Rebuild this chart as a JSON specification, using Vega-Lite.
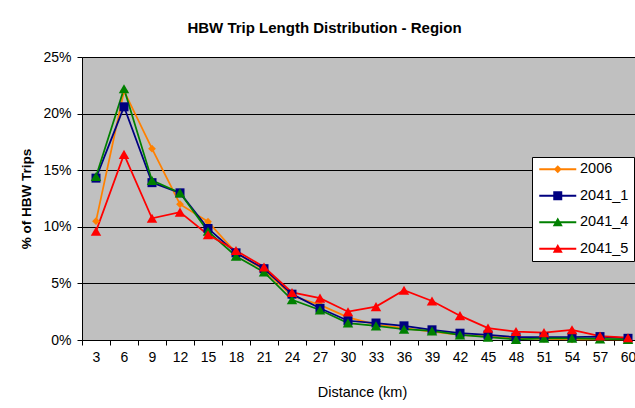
{
  "$schema": "https://vega.github.io/schema/vega-lite/v6.json",
  "width": 553,
  "height": 283,
  "autosize": {"type": "none"},
  "padding": {"left": 82, "top": 57, "right": 0, "bottom": 68},
  "background": "white",
  "title": {"text": "HBW Trip Length Distribution - Region", "font": "Liberation Sans", "fontSize": 15, "fontWeight": "bold", "anchor": "middle", "frame": "group", "dx": -34, "offset": 14, "color": "black"},
  "data": {"values": [
    {"d": 3, "s": "2006", "v": 0.105}, {"d": 6, "s": "2006", "v": 0.220}, {"d": 9, "s": "2006", "v": 0.169}, {"d": 12, "s": "2006", "v": 0.120}, {"d": 15, "s": "2006", "v": 0.1045}, {"d": 18, "s": "2006", "v": 0.077}, {"d": 21, "s": "2006", "v": 0.062}, {"d": 24, "s": "2006", "v": 0.039}, {"d": 27, "s": "2006", "v": 0.031}, {"d": 30, "s": "2006", "v": 0.020}, {"d": 33, "s": "2006", "v": 0.0135}, {"d": 36, "s": "2006", "v": 0.0105}, {"d": 39, "s": "2006", "v": 0.0075}, {"d": 42, "s": "2006", "v": 0.0045}, {"d": 45, "s": "2006", "v": 0.003}, {"d": 48, "s": "2006", "v": 0.0015}, {"d": 51, "s": "2006", "v": 0.001}, {"d": 54, "s": "2006", "v": 0.0005}, {"d": 57, "s": "2006", "v": 0.0005}, {"d": 60, "s": "2006", "v": 0.0005},
    {"d": 3, "s": "2041_1", "v": 0.143}, {"d": 6, "s": "2041_1", "v": 0.206}, {"d": 9, "s": "2041_1", "v": 0.139}, {"d": 12, "s": "2041_1", "v": 0.130}, {"d": 15, "s": "2041_1", "v": 0.0985}, {"d": 18, "s": "2041_1", "v": 0.077}, {"d": 21, "s": "2041_1", "v": 0.063}, {"d": 24, "s": "2041_1", "v": 0.0405}, {"d": 27, "s": "2041_1", "v": 0.028}, {"d": 30, "s": "2041_1", "v": 0.017}, {"d": 33, "s": "2041_1", "v": 0.015}, {"d": 36, "s": "2041_1", "v": 0.0125}, {"d": 39, "s": "2041_1", "v": 0.009}, {"d": 42, "s": "2041_1", "v": 0.006}, {"d": 45, "s": "2041_1", "v": 0.0045}, {"d": 48, "s": "2041_1", "v": 0.0025}, {"d": 51, "s": "2041_1", "v": 0.0025}, {"d": 54, "s": "2041_1", "v": 0.0025}, {"d": 57, "s": "2041_1", "v": 0.003}, {"d": 60, "s": "2041_1", "v": 0.0015},
    {"d": 3, "s": "2041_4", "v": 0.1445}, {"d": 6, "s": "2041_4", "v": 0.222}, {"d": 9, "s": "2041_4", "v": 0.141}, {"d": 12, "s": "2041_4", "v": 0.130}, {"d": 15, "s": "2041_4", "v": 0.096}, {"d": 18, "s": "2041_4", "v": 0.074}, {"d": 21, "s": "2041_4", "v": 0.060}, {"d": 24, "s": "2041_4", "v": 0.0355}, {"d": 27, "s": "2041_4", "v": 0.0265}, {"d": 30, "s": "2041_4", "v": 0.015}, {"d": 33, "s": "2041_4", "v": 0.0125}, {"d": 36, "s": "2041_4", "v": 0.0095}, {"d": 39, "s": "2041_4", "v": 0.008}, {"d": 42, "s": "2041_4", "v": 0.0045}, {"d": 45, "s": "2041_4", "v": 0.0025}, {"d": 48, "s": "2041_4", "v": 0.0005}, {"d": 51, "s": "2041_4", "v": 0.0015}, {"d": 54, "s": "2041_4", "v": 0.0015}, {"d": 57, "s": "2041_4", "v": 0.001}, {"d": 60, "s": "2041_4", "v": 0.0005},
    {"d": 3, "s": "2041_5", "v": 0.096}, {"d": 6, "s": "2041_5", "v": 0.164}, {"d": 9, "s": "2041_5", "v": 0.1075}, {"d": 12, "s": "2041_5", "v": 0.113}, {"d": 15, "s": "2041_5", "v": 0.093}, {"d": 18, "s": "2041_5", "v": 0.079}, {"d": 21, "s": "2041_5", "v": 0.0645}, {"d": 24, "s": "2041_5", "v": 0.042}, {"d": 27, "s": "2041_5", "v": 0.037}, {"d": 30, "s": "2041_5", "v": 0.025}, {"d": 33, "s": "2041_5", "v": 0.0295}, {"d": 36, "s": "2041_5", "v": 0.044}, {"d": 39, "s": "2041_5", "v": 0.0345}, {"d": 42, "s": "2041_5", "v": 0.0215}, {"d": 45, "s": "2041_5", "v": 0.0105}, {"d": 48, "s": "2041_5", "v": 0.0075}, {"d": 51, "s": "2041_5", "v": 0.0065}, {"d": 54, "s": "2041_5", "v": 0.009}, {"d": 57, "s": "2041_5", "v": 0.0035}, {"d": 60, "s": "2041_5", "v": 0.002}
  ]},
  "encoding": {
    "x": {
      "field": "d", "type": "ordinal", "sort": null,
      "scale": {"type": "band", "range": [0, 560], "paddingInner": 0, "paddingOuter": 0},
      "axis": {"title": "Distance (km)", "titleFont": "Liberation Sans", "titleFontSize": 14.5, "titleFontWeight": "normal", "titleColor": "black", "titlePadding": 21, "labelAngle": 0, "labelFont": "Liberation Sans", "labelFontSize": 14, "labelColor": "black", "labelPadding": 5, "tickBand": "extent", "tickSize": 5, "tickColor": "black", "domainColor": "black", "grid": false, "labelOverlap": false}
    },
    "y": {
      "field": "v", "type": "quantitative",
      "scale": {"domain": [0, 0.25], "nice": false},
      "axis": {"title": "% of HBW Trips", "titleFont": "Liberation Sans", "titleFontSize": 13.5, "titleFontWeight": "bold", "titleColor": "black", "titlePadding": 9, "values": [0, 0.05, 0.1, 0.15, 0.2, 0.25], "format": ".0%", "labelFont": "Liberation Sans", "labelFontSize": 14, "labelColor": "black", "labelPadding": 6, "tickSize": 5, "tickColor": "black", "domainColor": "black", "grid": true, "gridColor": "black", "gridOpacity": 1, "gridWidth": 1}
    },
    "color": {
      "field": "s", "type": "nominal",
      "scale": {"domain": ["2006", "2041_1", "2041_4", "2041_5"], "range": ["#FF8000", "#000080", "#008000", "#FF0000"]},
      "legend": {
        "orient": "none", "legendX": 450, "legendY": 100, "title": null,
        "fillColor": "white", "strokeColor": "black", "padding": 5,
        "rowPadding": 11.5, "symbolSize": 100, "symbolOffset": 13.5, "labelOffset": 15,
        "labelFont": "Liberation Sans", "labelFontSize": 14.5, "labelColor": "black", "symbolStrokeWidth": 0, "symbolOpacity": 1,
        "encode": {"symbols": {"update": {
          "shape": {"signal": "datum.value === '2006' ? 'M-3.7,-0.18H3.7V0.18H-3.7Z M0,-0.8L0.8,0L0,0.8L-0.8,0Z' : datum.value === '2041_1' ? 'M-3.7,-0.18H3.7V0.18H-3.7Z M-0.9,-0.9H0.9V0.9H-0.9Z' : 'M-3.7,-0.18H3.7V0.18H-3.7Z M0,-0.95L1,0.8L-1,0.8Z'"}
        }}}
      }
    }
  },
  "layer": [
    {"mark": {"type": "line", "strokeWidth": 1.75}},
    {"transform": [{"filter": "datum.s === '2006'"}], "mark": {"type": "point", "filled": true, "opacity": 1, "shape": "diamond", "size": 60}},
    {"transform": [{"filter": "datum.s === '2041_1'"}], "mark": {"type": "point", "filled": true, "opacity": 1, "shape": "square", "size": 81}},
    {"transform": [{"filter": "datum.s === '2041_4'"}], "mark": {"type": "point", "filled": true, "opacity": 1, "shape": "triangle-up", "size": 110}},
    {"transform": [{"filter": "datum.s === '2041_5'"}], "mark": {"type": "point", "filled": true, "opacity": 1, "shape": "triangle-up", "size": 110}}
  ],
  "config": {
    "view": {"fill": "#C0C0C0", "stroke": null},
    "font": "Liberation Sans"
  }
}
